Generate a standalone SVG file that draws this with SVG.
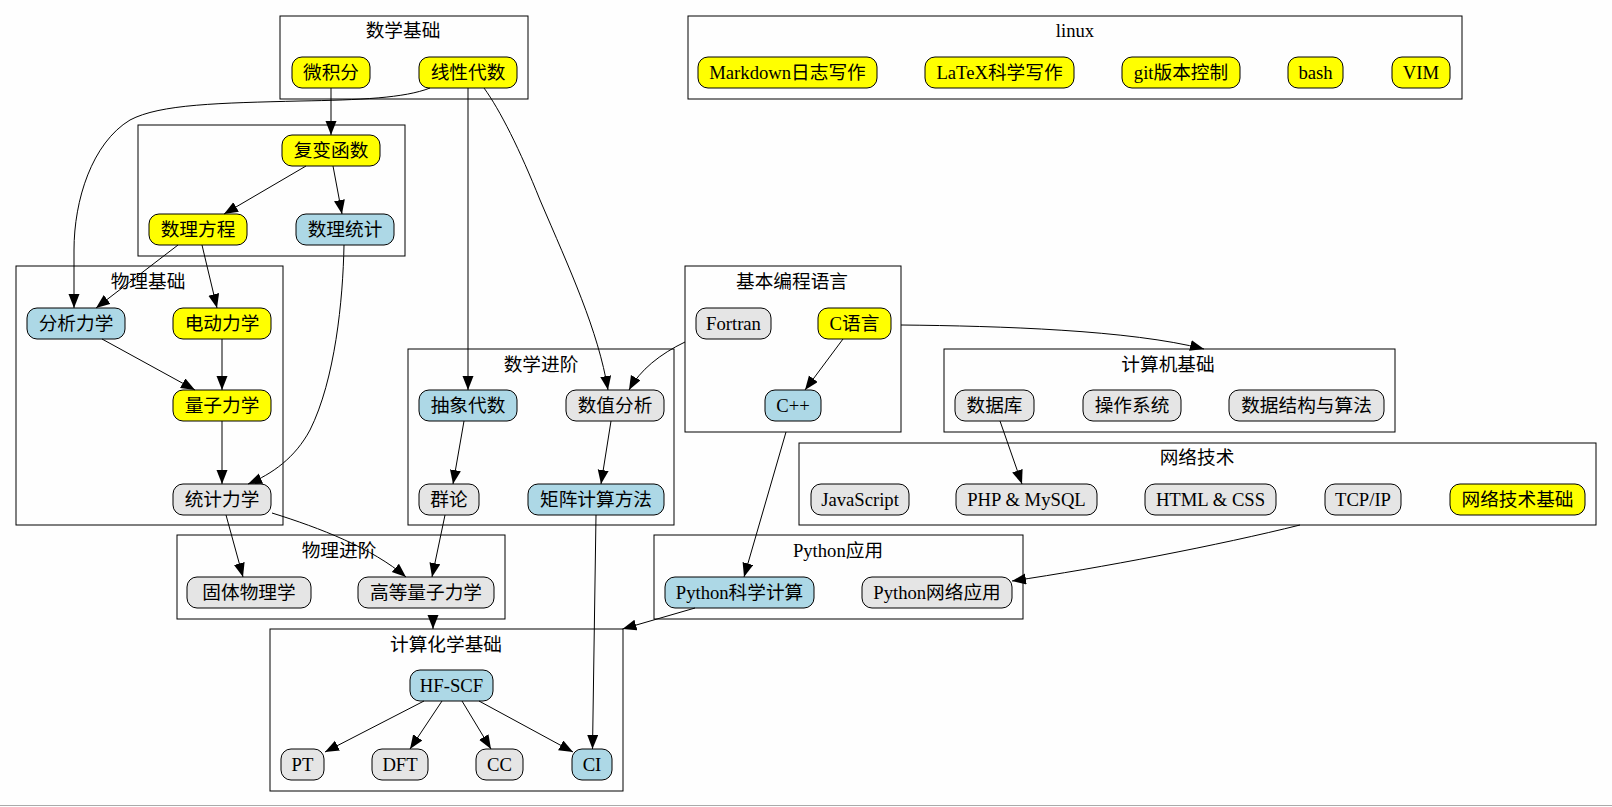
<svg xmlns="http://www.w3.org/2000/svg" width="1612" height="807" viewBox="0 0 1612 807">
<style>
text{font-family:"Liberation Serif","Noto Sans CJK SC",serif;font-size:18.67px;fill:#000;text-anchor:middle}
.cl{fill:none;stroke:#000;stroke-width:1}
.n rect{stroke:#000;stroke-width:1}
.y rect{fill:#ffff00}
.b rect{fill:#add8e6}
.g rect{fill:#e5e5e5}
.e path{fill:none;stroke:#000;stroke-width:1;marker-end:url(#ah)}
</style>
<defs>
<marker id="ah" markerUnits="userSpaceOnUse" markerWidth="15" markerHeight="12" refX="14" refY="5.5" orient="auto">
<path d="M0,0 L14,5.5 L0,11 z" fill="#000"/>
</marker>
</defs>
<rect x="0" y="0" width="1612" height="807" fill="#fefefe"/>
<line x1="0" y1="805.5" x2="1612" y2="805.5" stroke="#aaa" stroke-width="1"/>

<g id="clusters">
<g id="c_math_basic"><rect class="cl" x="280" y="16" width="248" height="83"/><text x="403" y="37">数学基础</text></g>
<g id="c_math_mid"><rect class="cl" x="138" y="125" width="267" height="131"/></g>
<g id="c_phys_basic"><rect class="cl" x="16" y="266" width="267" height="259"/><text x="148" y="288">物理基础</text></g>
<g id="c_math_adv"><rect class="cl" x="408" y="349" width="266" height="176"/><text x="541" y="371">数学进阶</text></g>
<g id="c_prog"><rect class="cl" x="685" y="266" width="216" height="166"/><text x="792" y="288">基本编程语言</text></g>
<g id="c_cs"><rect class="cl" x="944" y="349" width="451" height="83"/><text x="1168" y="371">计算机基础</text></g>
<g id="c_net"><rect class="cl" x="799" y="443" width="797" height="82"/><text x="1197" y="464">网络技术</text></g>
<g id="c_phys_adv"><rect class="cl" x="177" y="535" width="328" height="84"/><text x="339" y="557">物理进阶</text></g>
<g id="c_python"><rect class="cl" x="654" y="535" width="369" height="84"/><text x="838" y="557">Python应用</text></g>
<g id="c_chem"><rect class="cl" x="270" y="629" width="353" height="162"/><text x="446" y="651">计算化学基础</text></g>
<g id="c_linux"><rect class="cl" x="688" y="16" width="774" height="83"/><text x="1075" y="37">linux</text></g>
</g>

<g id="n_calc" class="n y"><rect x="292" y="57" width="78" height="31" rx="10"/><text x="331" y="79">微积分</text></g>
<g id="n_linalg" class="n y"><rect x="419" y="57" width="98" height="31" rx="10"/><text x="468" y="79">线性代数</text></g>
<g id="n_complex" class="n y"><rect x="282" y="135" width="98" height="31" rx="10"/><text x="331" y="157">复变函数</text></g>
<g id="n_mpeq" class="n y"><rect x="149" y="214" width="98" height="31" rx="10"/><text x="198" y="236">数理方程</text></g>
<g id="n_mstat" class="n b"><rect x="296" y="214" width="98" height="31" rx="10"/><text x="345" y="236">数理统计</text></g>
<g id="n_anamech" class="n b"><rect x="27" y="308" width="98" height="31" rx="10"/><text x="76" y="330">分析力学</text></g>
<g id="n_edyn" class="n y"><rect x="173" y="308" width="98" height="31" rx="10"/><text x="222" y="330">电动力学</text></g>
<g id="n_qm" class="n y"><rect x="173" y="390" width="98" height="31" rx="10"/><text x="222" y="412">量子力学</text></g>
<g id="n_statmech" class="n g"><rect x="173" y="484" width="98" height="31" rx="10"/><text x="222" y="506">统计力学</text></g>
<g id="n_absalg" class="n b"><rect x="419" y="390" width="98" height="31" rx="10"/><text x="468" y="412">抽象代数</text></g>
<g id="n_numana" class="n g"><rect x="566" y="390" width="98" height="31" rx="10"/><text x="615" y="412">数值分析</text></g>
<g id="n_group" class="n g"><rect x="419" y="484" width="60" height="31" rx="10"/><text x="449" y="506">群论</text></g>
<g id="n_matrix" class="n b"><rect x="528" y="484" width="136" height="31" rx="10"/><text x="596" y="506">矩阵计算方法</text></g>
<g id="n_fortran" class="n g"><rect x="696" y="308" width="75" height="31" rx="10"/><text x="733.5" y="330">Fortran</text></g>
<g id="n_c" class="n y"><rect x="818" y="308" width="73" height="31" rx="10"/><text x="854.5" y="330">C语言</text></g>
<g id="n_cpp" class="n b"><rect x="765" y="390" width="56" height="31" rx="10"/><text x="793" y="412">C++</text></g>
<g id="n_db" class="n g"><rect x="955" y="390" width="79" height="31" rx="10"/><text x="994.5" y="412">数据库</text></g>
<g id="n_os" class="n g"><rect x="1083" y="390" width="98" height="31" rx="10"/><text x="1132" y="412">操作系统</text></g>
<g id="n_dsa" class="n g"><rect x="1229" y="390" width="155" height="31" rx="10"/><text x="1306.5" y="412">数据结构与算法</text></g>
<g id="n_js" class="n g"><rect x="811" y="484" width="98" height="31" rx="10"/><text x="860" y="506">JavaScript</text></g>
<g id="n_php" class="n g"><rect x="956" y="484" width="141" height="31" rx="10"/><text x="1026.5" y="506">PHP &amp; MySQL</text></g>
<g id="n_html" class="n g"><rect x="1145" y="484" width="131" height="31" rx="10"/><text x="1210.5" y="506">HTML &amp; CSS</text></g>
<g id="n_tcp" class="n g"><rect x="1325" y="484" width="76" height="31" rx="10"/><text x="1363" y="506">TCP/IP</text></g>
<g id="n_netbase" class="n y"><rect x="1450" y="484" width="135" height="31" rx="10"/><text x="1517.5" y="506">网络技术基础</text></g>
<g id="n_solid" class="n g"><rect x="187" y="577" width="124" height="31" rx="10"/><text x="249" y="599">固体物理学</text></g>
<g id="n_advqm" class="n g"><rect x="358" y="577" width="136" height="31" rx="10"/><text x="426" y="599">高等量子力学</text></g>
<g id="n_pysci" class="n b"><rect x="665" y="577" width="149" height="31" rx="10"/><text x="739.5" y="599">Python科学计算</text></g>
<g id="n_pynet" class="n g"><rect x="862" y="577" width="150" height="31" rx="10"/><text x="937" y="599">Python网络应用</text></g>
<g id="n_hf" class="n b"><rect x="410" y="670" width="83" height="31" rx="10"/><text x="451.5" y="692">HF-SCF</text></g>
<g id="n_pt" class="n g"><rect x="281" y="749" width="43" height="31" rx="10"/><text x="302.5" y="771">PT</text></g>
<g id="n_dft" class="n g"><rect x="372" y="749" width="56" height="31" rx="10"/><text x="400" y="771">DFT</text></g>
<g id="n_cc" class="n g"><rect x="476" y="749" width="47" height="31" rx="10"/><text x="499.5" y="771">CC</text></g>
<g id="n_ci" class="n b"><rect x="572" y="749" width="40" height="31" rx="10"/><text x="592" y="771">CI</text></g>
<g id="n_md" class="n y"><rect x="698" y="57" width="179" height="31" rx="10"/><text x="787.5" y="79">Markdown日志写作</text></g>
<g id="n_latex" class="n y"><rect x="925" y="57" width="149" height="31" rx="10"/><text x="999.5" y="79">LaTeX科学写作</text></g>
<g id="n_git" class="n y"><rect x="1122" y="57" width="118" height="31" rx="10"/><text x="1181" y="79">git版本控制</text></g>
<g id="n_bash" class="n y"><rect x="1288" y="57" width="55" height="31" rx="10"/><text x="1315.5" y="79">bash</text></g>
<g id="n_vim" class="n y"><rect x="1392" y="57" width="58" height="31" rx="10"/><text x="1421" y="79">VIM</text></g>

<g id="connectors" class="e">
<path d="M331,88 L331,135"/>
<path d="M430,88 C405,98 360,100 300,101 C220,103 160,104 130,120 C92,143 74,200 74,250 L74,308"/>
<path d="M484,88 C500,110 520,150 540,200 C570,270 598,330 608,390"/>
<path d="M468,88 L468,390"/>
<path d="M306,166 L224,214"/>
<path d="M333,166 L342,214"/>
<path d="M178,245 L96,308"/>
<path d="M202,245 L217,308"/>
<path d="M102,339 L195,390"/>
<path d="M222,339 L222,390"/>
<path d="M222,421 L222,484"/>
<path d="M344,245 C343,300 335,380 310,430 C295,458 272,474 248,484"/>
<path d="M226,515 L243,577"/>
<path d="M272,513 C320,528 372,548 406,577"/>
<path d="M445,515 L432,577"/>
<path d="M464,421 L453,484"/>
<path d="M611,421 L601,484"/>
<path d="M596,515 L592.5,749"/>
<path d="M685,342 C660,354 640,370 629,390"/>
<path d="M843,339 L805,390"/>
<path d="M901,325 C1000,326 1130,330 1204,349"/>
<path d="M786,432 L744,577"/>
<path d="M1000,421 L1022,484"/>
<path d="M1300,525 C1220,545 1100,568 1012,581"/>
<path d="M695,608 L622.5,629"/>
<path d="M433,617 L433,629"/>
<path d="M424,701 L325,752"/>
<path d="M442,701 L410,749"/>
<path d="M462,701 L491,749"/>
<path d="M479,701 L573,752"/>
</g>
</svg>
